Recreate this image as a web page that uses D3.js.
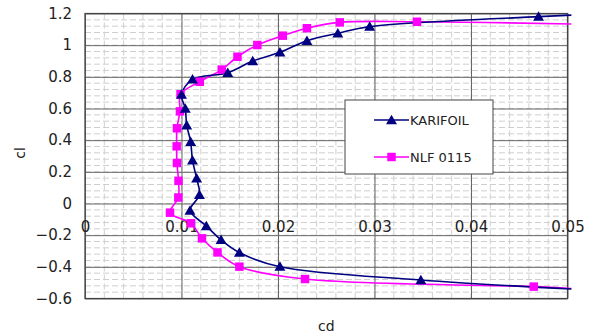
<!DOCTYPE html>
<html>
<head>
<meta charset="utf-8">
<script src="https://cdn.jsdelivr.net/npm/d3@7"></script>
<style>
  html, body { margin: 0; padding: 0; background: #fff; }
  svg { display: block; font-family: "DejaVu Sans", Arial, sans-serif; }
</style>
</head>
<body>
<svg id="chart" width="601" height="333"></svg>
<script>
// ---- Data ----
const karifoilCd = [0.0504, 0.0348, 0.0202, 0.0160, 0.0141, 0.01257, 0.01088, 0.01186, 0.01157, 0.01114, 0.01095, 0.01054, 0.01039, 0.0100, 0.01114, 0.01479, 0.01738, 0.0202, 0.0230, 0.0262, 0.0295, 0.0470, 0.0504];
const karifoilCl = [-0.540, -0.483, -0.399, -0.310, -0.230, -0.142, -0.044, 0.054, 0.159, 0.272, 0.390, 0.494, 0.600, 0.688, 0.784, 0.826, 0.900, 0.955, 1.028, 1.075, 1.117, 1.180, 1.190];
const nlfCd = [0.0504, 0.0465, 0.0228, 0.0160, 0.01373, 0.01212, 0.01098, 0.00881, 0.00967, 0.00969, 0.00953, 0.00950, 0.00953, 0.00984, 0.00990, 0.01189, 0.01417, 0.0158, 0.01786, 0.0205, 0.0230, 0.0264, 0.0344, 0.0504];
const nlfCl = [-0.537, -0.525, -0.477, -0.399, -0.309, -0.220, -0.125, -0.058, 0.038, 0.143, 0.256, 0.361, 0.475, 0.582, 0.690, 0.769, 0.846, 0.927, 1.001, 1.060, 1.107, 1.144, 1.148, 1.134];
const seriesNames = ["KARIFOIL", "NLF 0115"];
const xTicks = [0, 0.01, 0.02, 0.03, 0.04, 0.05];
const xTickLabels = ["0", "0.01", "0.02", "0.03", "0.04", "0.05"];
const yTicks = [-0.6, -0.4, -0.2, 0, 0.2, 0.4, 0.6, 0.8, 1, 1.2];
const yTickLabels = ["-0.6", "-0.4", "-0.2", "0", "0.2", "0.4", "0.6", "0.8", "1", "1.2"];
const xTitle = "cd";
const yTitle = "cl";

// ---- Layout ----
const svg = d3.select("#chart");
const L = 85, R = 567.5, T = 13.5, B = 298.5;
const x = d3.scaleLinear().domain([0, 0.05]).range([L, R]);
const y = d3.scaleLinear().domain([-0.6, 1.2]).range([B, T]);
const FONT = "'DejaVu Sans', Arial, sans-serif";

const g = svg.append("g");

// minor grid
const xMinor = d3.range(0, 0.05 + 1e-9, 0.002);
const yMinor = d3.range(-0.6, 1.2 + 1e-9, 0.04);
g.append("g").selectAll("line").data(xMinor).join("line")
  .attr("x1", d => x(d)).attr("x2", d => x(d)).attr("y1", T).attr("y2", B)
  .attr("stroke", "#cfcfcf").attr("stroke-width", 1).attr("stroke-dasharray", "6,3");
g.append("g").selectAll("line").data(yMinor).join("line")
  .attr("x1", L).attr("x2", R).attr("y1", d => y(d)).attr("y2", d => y(d))
  .attr("stroke", "#cfcfcf").attr("stroke-width", 1).attr("stroke-dasharray", "6,3");

// major grid via axes
const xGrid = d3.axisBottom(x).tickValues(xTicks).tickSize(-(B - T)).tickFormat("");
g.append("g").attr("transform", `translate(0,${B})`).call(xGrid)
  .call(s => s.select(".domain").remove())
  .call(s => s.selectAll("line").attr("stroke", "#666").attr("stroke-width", 1));
const yGrid = d3.axisLeft(y).tickValues(yTicks).tickSize(-(R - L)).tickFormat("");
g.append("g").attr("transform", `translate(${L},0)`).call(yGrid)
  .call(s => s.select(".domain").remove())
  .call(s => s.selectAll("line").attr("stroke", "#666").attr("stroke-width", 1));

// plot border
g.append("rect").attr("x", L).attr("y", T).attr("width", R - L).attr("height", B - T)
  .attr("fill", "none").attr("stroke", "#444").attr("stroke-width", 1.2);

// y tick labels
const yAxis = d3.axisLeft(y).tickValues(yTicks).tickSize(0).tickPadding(13)
  .tickFormat((d, i) => yTickLabels[i].replace("-", "\u2212"));
g.append("g").attr("transform", `translate(${L},0)`).call(yAxis)
  .call(s => s.select(".domain").remove())
  .call(s => s.selectAll("text").attr("font-size", 15).attr("fill", "#222")
    .attr("font-family", FONT));

// x tick labels (crossing at cl = 0)
const xAxis = d3.axisBottom(x).tickValues(xTicks).tickSize(0).tickPadding(18)
  .tickFormat((d, i) => xTickLabels[i]);
g.append("g").attr("transform", `translate(0,${y(0)})`).call(xAxis)
  .call(s => s.select(".domain").remove())
  .call(s => s.selectAll("text").attr("font-size", 15).attr("fill", "#222")
    .attr("font-family", FONT));

// titles
svg.append("text").attr("x", (L + R) / 2).attr("y", 331).attr("text-anchor", "middle")
  .attr("font-size", 14).attr("fill", "#222").text(xTitle);
svg.append("text").attr("transform", `translate(25,153) rotate(-90)`).attr("text-anchor", "middle")
  .attr("font-size", 14).attr("fill", "#222").text(yTitle);

// series
const line = d3.line().x(d => x(d[0])).y(d => y(d[1])).curve(d3.curveCatmullRom.alpha(0.5));
const kar = karifoilCd.map((c, i) => [c, karifoilCl[i]]);
const nlf = nlfCd.map((c, i) => [c, nlfCl[i]]);
const colors = ["#000080", "#ff00ff"];

g.append("path").datum(nlf).attr("d", line).attr("fill", "none")
  .attr("stroke", colors[1]).attr("stroke-width", 1.6);
g.append("path").datum(kar).attr("d", line).attr("fill", "none")
  .attr("stroke", colors[0]).attr("stroke-width", 1.6);

const tri = d3.symbol().type(d3.symbolTriangle).size(52);
const sq = d3.symbol().type(d3.symbolSquare).size(72);
const inside = d => d[0] <= 0.05;

g.append("g").selectAll("path").data(nlf.filter(inside)).join("path")
  .attr("transform", d => `translate(${x(d[0])},${y(d[1])})`)
  .attr("d", sq).attr("fill", colors[1]);
g.append("g").selectAll("path").data(kar.filter(inside)).join("path")
  .attr("transform", d => `translate(${x(d[0])},${y(d[1]) + 1})`)
  .attr("d", tri).attr("fill", colors[0]);

// legend
const lg = svg.append("g");
lg.append("rect").attr("x", 345).attr("y", 100).attr("width", 148).attr("height", 74)
  .attr("fill", "#fff").attr("stroke", "#444").attr("stroke-width", 1);
const ly = [120, 157];
seriesNames.forEach((name, i) => {
  lg.append("line").attr("x1", 374).attr("x2", 409).attr("y1", ly[i]).attr("y2", ly[i])
    .attr("stroke", colors[i]).attr("stroke-width", 1.6);
  lg.append("path").attr("transform", `translate(391.5,${ly[i] + (i === 0 ? 1 : 0)})`)
    .attr("d", i === 0 ? tri : sq).attr("fill", colors[i]);
  lg.append("text").attr("x", 410).attr("y", ly[i] + 5).attr("font-size", 13)
    .attr("fill", "#222").text(name);
});
</script>
</body>
</html>
